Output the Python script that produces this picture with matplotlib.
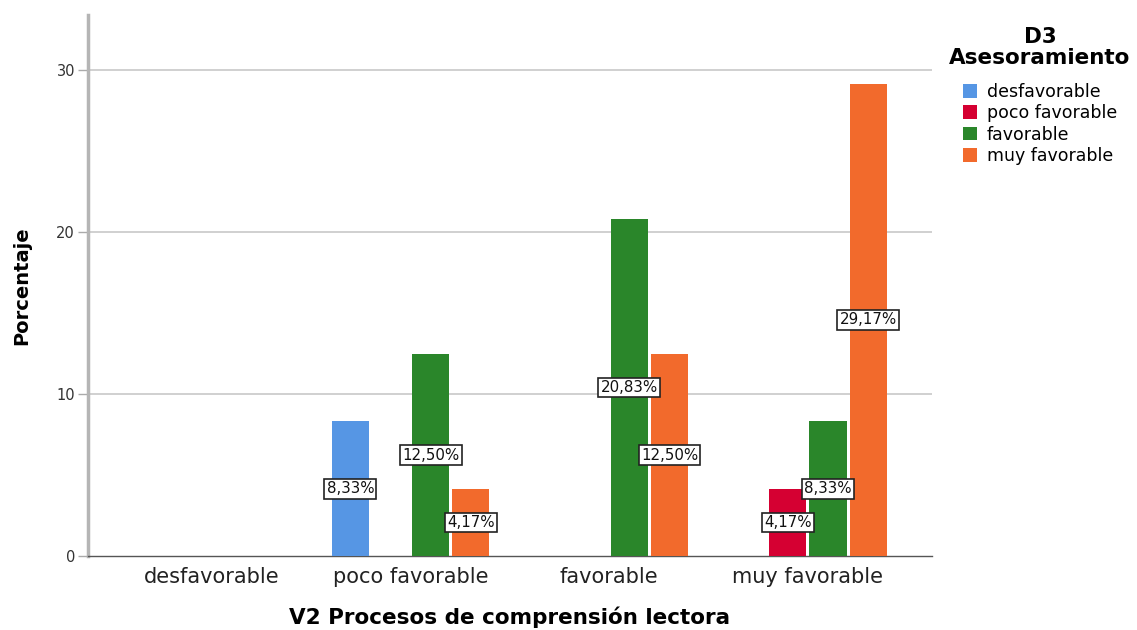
import numpy as np
import matplotlib.pyplot as plt

categorias = ["desfavorable", "poco favorable", "favorable", "muy favorable"]
series = ["desfavorable", "poco favorable", "favorable", "muy favorable"]
colores = ["#5696E4", "#D50032", "#2A862A", "#F26A2C"]

# porcentaje por categoria de V2 (filas = serie D3)
valores = {
    "desfavorable":   [0, 8.33, 0, 0],
    "poco favorable": [0, 0, 0, 4.17],
    "favorable":      [0, 12.50, 20.83, 8.33],
    "muy favorable":  [0, 4.17, 12.50, 29.17],
}

plt.rcParams["font.family"] = ["DejaVu Sans"]

fig = plt.figure(figsize=(11.37, 6.3), dpi=100)
ax = fig.add_axes([0.077, 0.117, 0.743, 0.859])

x = np.arange(len(categorias))
paso = 0.202
ancho = 0.187
for i, s in enumerate(series):
    offs = (i - 1.5) * paso
    vals = np.array(valores[s])
    xs = x + offs
    mask = vals > 0
    ax.bar(xs[mask], vals[mask], width=ancho, color=colores[i], label=s, zorder=3)
    for xi, v in zip(xs[mask], vals[mask]):
        ax.text(xi, v / 2, f"{v:.2f}%".replace(".", ","), ha="center", va="center",
                fontsize=10.8, color="#111111", zorder=5,
                bbox=dict(boxstyle="square,pad=0.15", fc="white", ec="#222222", lw=1.2))

ax.set_xlim(-0.626, 3.626)
ax.set_ylim(0, 33.4)
ax.set_yticks([0, 10, 20, 30])
ax.set_yticklabels(["0", "10", "20", "30"], fontsize=10.5, color="#333333")
ax.set_xticks(x)
ax.set_xticklabels(categorias, fontsize=15, color="#222222")
ax.tick_params(axis="x", length=0, pad=8)
ax.tick_params(axis="y", length=7, width=1, color="#aaaaaa", pad=2)
for yv in [10, 20, 30]:
    ax.axhline(yv, color="#c8c8c8", lw=1.2, zorder=1)

ax.spines["top"].set_visible(False)
ax.spines["right"].set_visible(False)
ax.spines["left"].set_color("#b5b5b5")
ax.spines["left"].set_linewidth(2.5)
ax.spines["bottom"].set_color("#555555")
ax.spines["bottom"].set_linewidth(1)

ax.set_xlabel("V2 Procesos de comprensión lectora", fontsize=15.5, fontweight="bold", labelpad=14)
ax.set_ylabel("Porcentaje", fontsize=14, fontweight="bold", labelpad=18)

# titulo de la leyenda aparte, centrado sobre las entradas
fig.text(1040 / 1137, 1 - 27 / 630, "D3\nAsesoramiento", ha="center", va="top",
         fontsize=15.5, fontweight="bold", linespacing=1.05)
leg = ax.legend(loc="upper center",
                bbox_to_anchor=(1040 / 1137, 1 - 67 / 630), bbox_transform=fig.transFigure,
                frameon=False, fontsize=12.5,
                handlelength=0.85, handleheight=0.85, handletextpad=0.55, labelspacing=0.2)

fig.savefig("out.png", dpi=100)
